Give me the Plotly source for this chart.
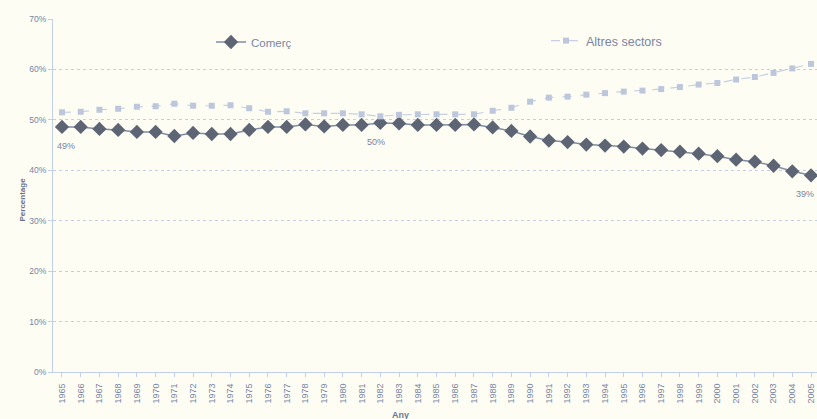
import plotly.graph_objects as go

years = list(range(1965, 2006))
comerc = [48.6, 48.6, 48.2, 48.0, 47.6, 47.6, 46.8, 47.4, 47.2, 47.2,
          48.0, 48.6, 48.6, 49.1, 48.7, 49.0, 49.0, 49.4, 49.3, 49.0,
          49.0, 49.0, 49.1, 48.5, 47.8, 46.7, 45.9, 45.6, 45.1, 44.9,
          44.7, 44.3, 44.0, 43.7, 43.3, 42.8, 42.1, 41.7, 40.9, 39.8, 39.0]
altres = [51.5, 51.6, 52.0, 52.2, 52.6, 52.7, 53.2, 52.8, 52.8, 52.9,
          52.3, 51.6, 51.7, 51.3, 51.3, 51.3, 51.1, 50.7, 51.0, 51.1,
          51.1, 51.1, 51.1, 51.8, 52.4, 53.6, 54.4, 54.6, 55.0, 55.3,
          55.6, 55.8, 56.1, 56.5, 57.0, 57.3, 58.0, 58.5, 59.3, 60.2, 61.1]
label_years = [1965, 1982, 2005]
label_texts = ["49%", "50%", "39%"]
y_ticks = [0, 10, 20, 30, 40, 50, 60, 70]
y_labels = ["0%", "10%", "20%", "30%", "40%", "50%", "60%", "70%"]

BG = "#fdfdf4"
AXC = "#7884a4"
GRID = "#c3cfea"
FONT = "Liberation Sans"

fig = go.Figure()
fig.add_trace(go.Scatter(
    x=years, y=comerc, name="Comerç", mode="lines+markers",
    line=dict(color="#7f8ca3", width=1.5),
    marker=dict(symbol="diamond", size=11, color="#5d6574"),
    legend="legend",
))
fig.add_trace(go.Scatter(
    x=years, y=altres, name="Altres sectors", mode="lines+markers",
    line=dict(color="#c6d0e2", width=1.2, dash="dash"),
    marker=dict(symbol="square", size=6, color="#bcc7dc"),
    legend="legend2",
))

shifts = {1965: 4, 1982: -4, 2005: -6}
for yr, txt in zip(label_years, label_texts):
    v = comerc[years.index(yr)]
    fig.add_annotation(x=yr, y=v, text=txt, showarrow=False, yshift=-19,
                       xshift=shifts[yr],
                       font=dict(size=9, color=AXC, family=FONT))

fig.add_annotation(x=(400 - 53) / 764, xref="paper", y=-(408 - 372) / 353, yref="paper",
                   yanchor="top", text="<b>Any</b>", showarrow=False,
                   font=dict(size=9, color="#6c7590", family=FONT))
fig.add_annotation(x=(15 - 53) / 764, xref="paper", y=(372 - 200) / 353, yref="paper",
                   textangle=-90, text="<b>Percentage</b>", showarrow=False,
                   font=dict(size=8, color="#6c7590", family=FONT))

leg_common = dict(orientation="h", yanchor="middle", xanchor="left",
                  bgcolor="rgba(0,0,0,0)")
fig.update_layout(
    width=817, height=419,
    margin=dict(l=53, r=0, t=19, b=47, autoexpand=False),
    paper_bgcolor=BG, plot_bgcolor=BG,
    showlegend=True,
    legend=dict(x=211 / 817, xref="container", y=(419 - 42) / 419, yref="container",
                font=dict(size=11.5, color="#7a86a2", family=FONT), **leg_common),
    legend2=dict(x=546 / 817, xref="container", y=(419 - 41) / 419, yref="container",
                 font=dict(size=12.5, color="#7a86a2", family=FONT), **leg_common),
    font=dict(family=FONT, color=AXC),
)
fig.update_xaxes(
    range=[1964.52, 2005.32], automargin=False,
    tickmode="array", tickvals=years, ticktext=[str(y) for y in years],
    tickangle=-90, tickfont=dict(size=9, color=AXC),
    showgrid=False, zeroline=False,
    showline=True, linecolor=GRID, linewidth=1,
    ticks="outside", ticklen=4, tickcolor=GRID, ticklabelstandoff=3,
)
fig.update_yaxes(
    range=[0, 70], automargin=False,
    tickmode="array", tickvals=y_ticks, ticktext=y_labels,
    tickfont=dict(size=8.5, color=AXC),
    showgrid=True, gridcolor=GRID, griddash="dot", gridwidth=1,
    zeroline=False, showline=True, linecolor=GRID, linewidth=1,
    ticks="outside", ticklen=4, tickcolor=GRID,
)

fig.write_html("out.html", config={"displayModeBar": False},
               post_script="document.body.style.margin='0';document.body.style.overflow='hidden';")
